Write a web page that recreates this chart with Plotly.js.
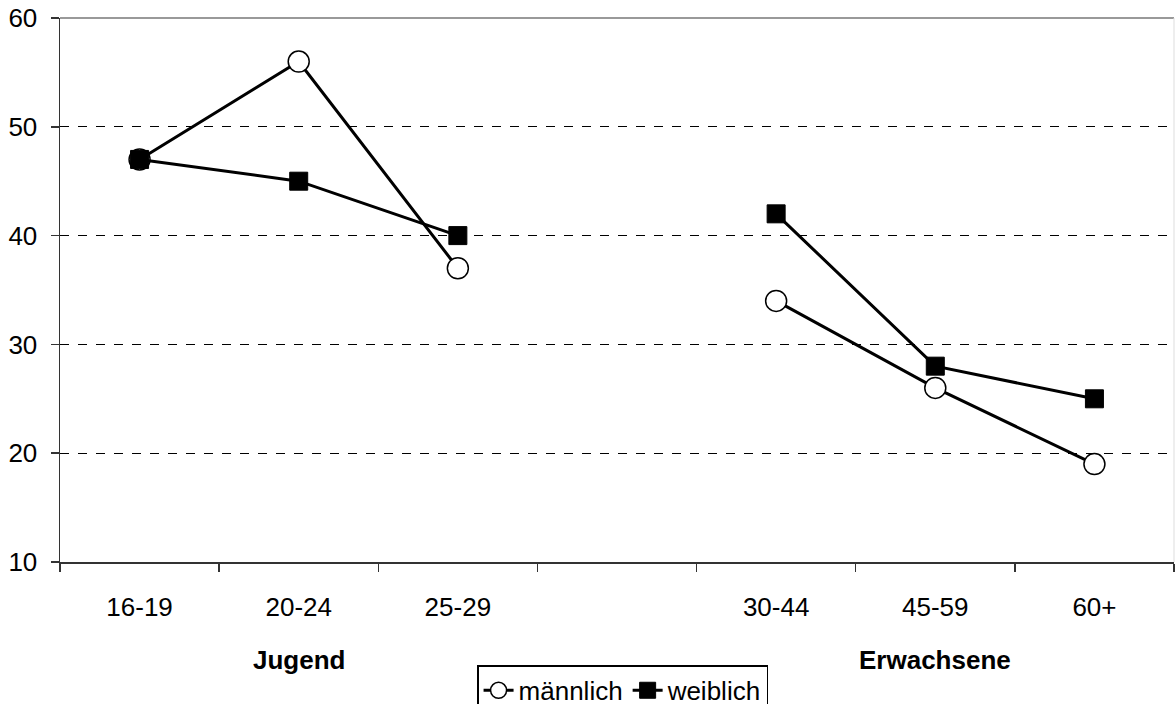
<!DOCTYPE html>
<html>
<head>
<meta charset="utf-8">
<script src="https://cdn.plot.ly/plotly-3.0.1.min.js"></script>
<style>
html,body{margin:0;padding:0;background:#fff;}
#chart{width:1175px;height:704px;}
</style>
</head>
<body>
<div id="chart"></div>
<script>
var categories = ["16-19", "20-24", "25-29", " ", "30-44", "45-59", "60+"];
var maleValues = [47, 56, 37, null, 34, 26, 19];
var femaleValues = [47, 45, 40, null, 42, 28, 25];
var seriesNames = ["männlich", "weiblich"];
var groupLabels = ["Jugend", "Erwachsene"];
var groupCenters = ["20-24", "45-59"];
var yTicks = [10, 20, 30, 40, 50, 60];

var FONT = "Liberation Sans, Arial, sans-serif";
var FS = 26;

var traces = [
  {
    x: categories, y: maleValues, name: seriesNames[0],
    type: "scatter", mode: "lines+markers", connectgaps: false,
    line: {color: "#000", width: 3},
    marker: {symbol: "circle", size: 21, color: "#fff", line: {color: "#000", width: 1.5}},
    cliponaxis: false
  },
  {
    x: categories, y: femaleValues, name: seriesNames[1],
    type: "scatter", mode: "lines+markers", connectgaps: false,
    line: {color: "#000", width: 3},
    marker: {symbol: "square", size: 18, color: "#000", line: {color: "#000", width: 1}},
    cliponaxis: false
  }
];

var annotations = groupLabels.map(function (t, i) {
  return {
    x: groupCenters[i], xref: "x", y: -0.180, yref: "paper",
    text: "<b>" + t + "</b>", showarrow: false,
    font: {family: FONT, size: FS, color: "#000"},
    xanchor: "center", yanchor: "middle"
  };
});

var layout = {
  width: 1175, height: 704,
  margin: {l: 60, r: 1, t: 18, b: 142, autoexpand: false},
  paper_bgcolor: "#fff", plot_bgcolor: "#fff",
  font: {family: FONT, size: FS, color: "#000"},
  showlegend: true,
  legend: {
    orientation: "h", x: 0.505, xanchor: "center", y: -0.19, yanchor: "top",
    bordercolor: "#000", borderwidth: 1.5, bgcolor: "#fff",
    font: {family: FONT, size: 26, color: "#000"},
    itemwidth: 30, tracegroupgap: 0
  },
  xaxis: {
    type: "category", categoryorder: "array", categoryarray: categories,
    range: [-0.5, 6.5], tickson: "boundaries", ticks: "outside", ticklen: 8,
    tickcolor: "#333", tickwidth: 1.5, automargin: false,
    showline: true, linecolor: "#333", linewidth: 1.5,
    showgrid: false, zeroline: false, ticklabelstandoff: 21,
    tickfont: {family: FONT, size: FS, color: "#000"}, fixedrange: true
  },
  yaxis: {
    range: [10, 60], tickvals: yTicks, ticks: "outside", ticklen: 8,
    tickcolor: "#333", tickwidth: 1.5, automargin: false,
    showline: true, linecolor: "#333", linewidth: 1.5,
    showgrid: true, gridcolor: "#000", griddash: "dash", gridwidth: 1,
    zeroline: false, ticklabelstandoff: 8,
    tickfont: {family: FONT, size: FS, color: "#000"}, fixedrange: true
  },
  shapes: [
    {type: "line", xref: "paper", yref: "paper", x0: 0, x1: 1, y0: 1, y1: 1,
     line: {color: "#999", width: 2}},
    {type: "line", xref: "paper", yref: "paper", x0: 1, x1: 1, y0: 0, y1: 1,
     line: {color: "#ddd", width: 1}}
  ],
  annotations: annotations
};

Plotly.newPlot("chart", traces, layout, {displayModeBar: false, staticPlot: true});
</script>
</body>
</html>
